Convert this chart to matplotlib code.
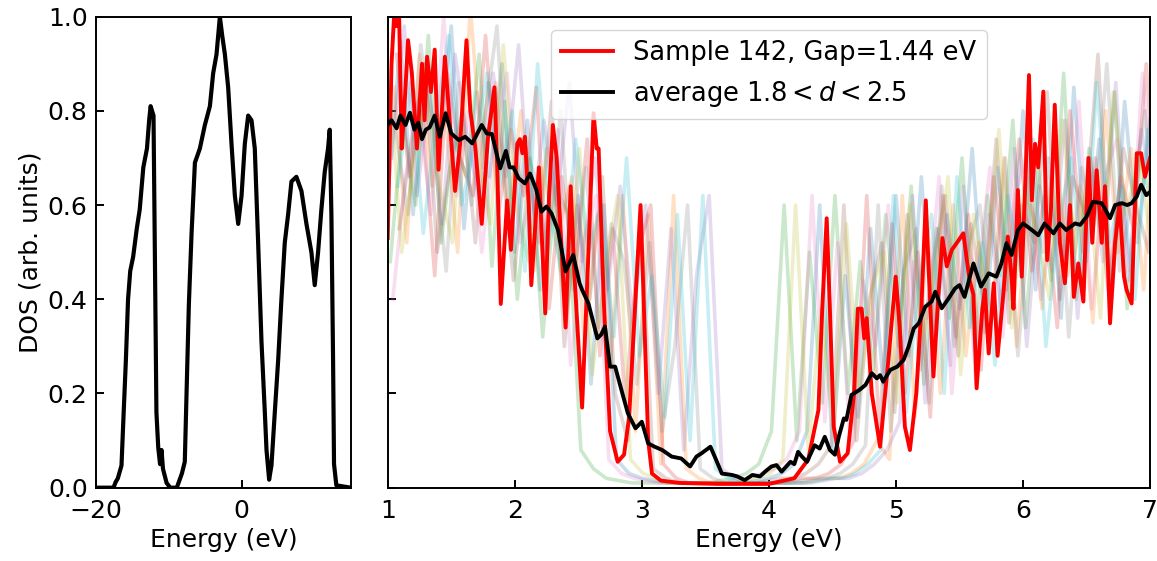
import numpy as np
import matplotlib.pyplot as plt

plt.rcParams['font.size'] = 18

# ----- full-range DOS (left panel) -----
full_energy = [-20, -17.6, -17.3, -17.0, -16.5, -16.2, -15.9, -15.6, -15.3, -14.9,
               -14.4, -14.0, -13.5, -13.0, -12.7, -12.5, -12.3, -12.1, -11.7, -11.45,
               -11.2, -11.0, -10.8, -10.3, -9.8, -8.9, -8.2, -7.8, -7.56, -7.24,
               -6.87, -6.41, -5.73, -5.04, -4.35, -3.9, -3.44, -2.98, -2.66, -2.29,
               -1.84, -1.38, -0.92, -0.46, 0.0, 0.45, 0.91, 1.37, 1.82, 2.28,
               2.74, 3.2, 3.43, 3.79, 4.11, 4.57, 5.03, 5.48, 5.94, 6.40,
               6.86, 7.54, 8.23, 8.92, 9.60, 10.06, 10.52, 10.97, 11.43, 11.89,
               12.12, 12.35, 12.58, 12.71, 13.03, 15.0]
full_dos = [0.0, 0.0, 0.012, 0.02, 0.047, 0.16, 0.27, 0.40, 0.46, 0.49,
            0.55, 0.59, 0.68, 0.72, 0.78, 0.81, 0.80, 0.79, 0.16, 0.085,
            0.05, 0.08, 0.04, 0.01, 0.0, 0.0, 0.03, 0.055, 0.20, 0.39,
            0.54, 0.69, 0.72, 0.77, 0.81, 0.88, 0.92, 1.0, 0.96, 0.92,
            0.85, 0.73, 0.62, 0.56, 0.62, 0.73, 0.79, 0.78, 0.72, 0.52,
            0.31, 0.16, 0.08, 0.017, 0.047, 0.16, 0.27, 0.40, 0.52, 0.58,
            0.65, 0.66, 0.63, 0.56, 0.50, 0.43, 0.50, 0.59, 0.67, 0.72,
            0.76, 0.58, 0.27, 0.05, 0.005, 0.0]

# ----- sample 142 (red) -----
sample_energy = [1.00, 1.03, 1.05, 1.07, 1.09, 1.11, 1.13, 1.16, 1.19, 1.23,
                 1.27, 1.29, 1.31, 1.34, 1.37, 1.40, 1.45, 1.49, 1.53, 1.57,
                 1.62, 1.65, 1.69, 1.74, 1.79, 1.84, 1.86, 1.89, 1.92, 1.94,
                 1.97, 2.02, 2.04, 2.06, 2.08, 2.11, 2.13, 2.16, 2.19, 2.21,
                 2.24, 2.27, 2.30, 2.33, 2.37, 2.40, 2.44, 2.47, 2.53, 2.58,
                 2.62, 2.645, 2.66, 2.70, 2.75, 2.81, 2.86, 2.90, 2.95, 2.99,
                 3.02, 3.05, 3.08, 3.15, 3.3, 3.6, 4.0, 4.2, 4.31, 4.39,
                 4.42, 4.455, 4.48, 4.51, 4.56, 4.62, 4.67, 4.70, 4.73, 4.75,
                 4.77, 4.81, 4.875, 4.94, 4.998, 5.03, 5.07, 5.11, 5.16, 5.20,
                 5.235, 5.26, 5.295, 5.335, 5.366, 5.40, 5.44, 5.48, 5.53, 5.58,
                 5.61, 5.635, 5.68, 5.70, 5.73, 5.77, 5.80, 5.845, 5.88, 5.91,
                 5.925, 5.96, 5.99, 6.02, 6.047, 6.07, 6.095, 6.12, 6.16, 6.19,
                 6.22, 6.25, 6.29, 6.33, 6.37, 6.40, 6.435, 6.475, 6.515, 6.545,
                 6.58, 6.62, 6.645, 6.685, 6.725, 6.76, 6.795, 6.815, 6.855, 6.895,
                 6.93, 6.96, 7.0]
sample_dos = [0.53, 0.90, 1.00, 0.98, 1.00, 0.72, 0.80, 0.95, 0.88, 0.72,
              0.90, 0.78, 0.915, 0.84, 0.93, 0.675, 0.915, 0.77, 0.63, 0.73,
              0.95, 0.80, 0.72, 0.56, 0.745, 0.85, 0.70, 0.39, 0.52, 0.61,
              0.505, 0.73, 0.74, 0.71, 0.745, 0.60, 0.43, 0.55, 0.68, 0.55,
              0.37, 0.62, 0.77, 0.70, 0.50, 0.34, 0.64, 0.45, 0.17, 0.50,
              0.795, 0.72, 0.72, 0.40, 0.12, 0.055, 0.07, 0.15, 0.40, 0.60,
              0.35, 0.10, 0.03, 0.015, 0.01, 0.008, 0.008, 0.02, 0.06, 0.165,
              0.38, 0.572, 0.38, 0.13, 0.055, 0.073, 0.20, 0.38, 0.38, 0.317,
              0.36, 0.20, 0.087, 0.27, 0.448, 0.34, 0.13, 0.08, 0.20, 0.38,
              0.61, 0.45, 0.236, 0.41, 0.53, 0.47, 0.505, 0.52, 0.54, 0.44,
              0.41, 0.211, 0.38, 0.42, 0.285, 0.434, 0.28, 0.41, 0.533, 0.448,
              0.38, 0.632, 0.448, 0.66, 0.876, 0.61, 0.73, 0.68, 0.841, 0.483,
              0.59, 0.813, 0.52, 0.434, 0.60, 0.405, 0.476, 0.395, 0.70, 0.52,
              0.674, 0.52, 0.64, 0.349, 0.52, 0.604, 0.448, 0.42, 0.391, 0.71,
              0.71, 0.66, 0.70]

# ----- average over 1.8 < d < 2.5 (black) -----
avg_energy = [1.00, 1.03, 1.07, 1.10, 1.14, 1.175, 1.21, 1.24, 1.27, 1.30,
              1.33, 1.37, 1.41, 1.456, 1.50, 1.56, 1.61, 1.665, 1.74, 1.78,
              1.82, 1.885, 1.93, 1.96, 1.99, 2.03, 2.08, 2.12, 2.17, 2.21,
              2.25, 2.29, 2.34, 2.40, 2.46, 2.51, 2.53, 2.58, 2.62, 2.65,
              2.68, 2.71, 2.75, 2.79, 2.84, 2.89, 2.95, 3.00, 3.05, 3.10,
              3.16, 3.235, 3.31, 3.38, 3.43, 3.47, 3.54, 3.58, 3.63, 3.71,
              3.75, 3.81, 3.87, 3.93, 3.97, 4.02, 4.06, 4.10, 4.17, 4.20,
              4.23, 4.26, 4.30, 4.36, 4.40, 4.44, 4.48, 4.52, 4.55, 4.59,
              4.61, 4.65, 4.71, 4.76, 4.81, 4.85, 4.875, 4.90, 4.955, 5.01,
              5.06, 5.10, 5.14, 5.18, 5.23, 5.28, 5.31, 5.36, 5.41, 5.465,
              5.50, 5.54, 5.61, 5.67, 5.73, 5.79, 5.83, 5.87, 5.91, 5.96,
              6.00, 6.07, 6.12, 6.17, 6.24, 6.29, 6.34, 6.41, 6.45, 6.50,
              6.55, 6.62, 6.685, 6.725, 6.78, 6.82, 6.855, 6.895, 6.93, 6.97,
              7.0]
avg_dos = [0.77, 0.78, 0.763, 0.79, 0.77, 0.796, 0.76, 0.775, 0.74, 0.76,
           0.765, 0.79, 0.745, 0.795, 0.752, 0.738, 0.745, 0.731, 0.77, 0.752,
           0.751, 0.678, 0.715, 0.68, 0.68, 0.657, 0.646, 0.667, 0.632, 0.586,
           0.597, 0.582, 0.547, 0.459, 0.494, 0.434, 0.42, 0.391, 0.349, 0.317,
           0.325, 0.342, 0.257, 0.257, 0.207, 0.158, 0.126, 0.14, 0.094, 0.087,
           0.08, 0.066, 0.062, 0.045, 0.066, 0.073, 0.087, 0.062, 0.03, 0.027,
           0.024, 0.016, 0.027, 0.024, 0.034, 0.045, 0.048, 0.034, 0.055, 0.05,
           0.076, 0.066, 0.055, 0.09, 0.083, 0.108, 0.08, 0.07, 0.108, 0.147,
           0.144, 0.197, 0.207, 0.218, 0.243, 0.232, 0.239, 0.225, 0.25, 0.257,
           0.271, 0.30, 0.338, 0.349, 0.384, 0.395, 0.416, 0.381, 0.40, 0.423,
           0.43, 0.405, 0.476, 0.427, 0.455, 0.448, 0.476, 0.519, 0.494, 0.547,
           0.561, 0.547, 0.536, 0.561, 0.54, 0.561, 0.547, 0.561, 0.558, 0.575,
           0.607, 0.604, 0.572, 0.60, 0.604, 0.60, 0.604, 0.618, 0.643, 0.621,
           0.628]

# ----- individual samples (faint background), 0.1 eV grid from 1 eV + shift -----
sample_shifts = [0.0, 0.05, 0.02, 0.07, 0.03, 0.09, 0.04, 0.06, 0.01, 0.08]
faint_dos = [
    [0.62, 0.95, 0.58, 0.88, 0.70, 0.98, 0.55, 0.84, 0.66, 0.90,
     0.50, 0.78, 0.42, 0.70, 0.35, 0.62, 0.22, 0.60, 0.06, 0.03,
     0.02, 0.015, 0.01, 0.01, 0.01, 0.01, 0.01, 0.01, 0.01, 0.015,
     0.02, 0.03, 0.05, 0.12, 0.60, 0.08, 0.45, 0.15, 0.55, 0.22,
     0.62, 0.28, 0.66, 0.30, 0.58, 0.38, 0.72, 0.33, 0.68, 0.40,
     0.80, 0.42, 0.70, 0.36, 0.85, 0.48, 0.74, 0.40, 0.82, 0.52, 0.78],
    [0.85, 0.52, 0.92, 0.64, 0.80, 0.50, 1.02, 0.68, 0.86, 0.58,
     0.80, 0.46, 0.72, 0.55, 0.66, 0.30, 0.58, 0.25, 0.62, 0.12,
     0.58, 0.05, 0.62, 0.04, 0.02, 0.01, 0.01, 0.01, 0.01, 0.01,
     0.01, 0.01, 0.01, 0.015, 0.02, 0.02, 0.03, 0.05, 0.10, 0.06,
     0.62, 0.15, 0.55, 0.20, 0.60, 0.28, 0.52, 0.35, 0.70, 0.30,
     0.66, 0.38, 0.76, 0.45, 0.64, 0.35, 0.80, 0.50, 0.72, 0.42, 0.86],
    [0.48, 0.78, 0.60, 0.96, 0.52, 0.74, 0.66, 0.92, 0.47, 0.82,
     0.40, 0.70, 0.32, 0.64, 0.58, 0.08, 0.04, 0.02, 0.015, 0.01,
     0.01, 0.01, 0.01, 0.01, 0.01, 0.01, 0.015, 0.02, 0.03, 0.05,
     0.12, 0.60, 0.10, 0.50, 0.18, 0.62, 0.20, 0.48, 0.25, 0.58,
     0.30, 0.64, 0.22, 0.55, 0.36, 0.70, 0.30, 0.62, 0.45, 0.78,
     0.34, 0.68, 0.44, 0.88, 0.40, 0.72, 0.52, 0.84, 0.38, 0.70, 0.60],
    [0.92, 0.66, 0.80, 0.45, 0.88, 0.70, 0.62, 0.96, 0.58, 0.76,
     0.62, 0.85, 0.38, 0.66, 0.45, 0.74, 0.28, 0.55, 0.18, 0.50,
     0.60, 0.05, 0.02, 0.01, 0.01, 0.01, 0.01, 0.01, 0.01, 0.01,
     0.01, 0.015, 0.02, 0.02, 0.03, 0.05, 0.10, 0.62, 0.12, 0.56,
     0.20, 0.50, 0.15, 0.62, 0.32, 0.58, 0.25, 0.66, 0.42, 0.74,
     0.46, 0.62, 0.34, 0.80, 0.50, 0.70, 0.42, 0.66, 0.55, 0.90, 0.48],
    [0.70, 0.98, 0.62, 0.84, 0.56, 0.92, 0.74, 0.60, 0.88, 0.66,
     0.94, 0.55, 0.78, 0.60, 0.86, 0.48, 0.70, 0.42, 0.64, 0.35,
     0.60, 0.20, 0.55, 0.08, 0.45, 0.62, 0.04, 0.02, 0.01, 0.01,
     0.01, 0.01, 0.01, 0.01, 0.015, 0.02, 0.02, 0.03, 0.05, 0.08,
     0.14, 0.62, 0.18, 0.55, 0.26, 0.64, 0.22, 0.58, 0.38, 0.72,
     0.30, 0.64, 0.46, 0.78, 0.36, 0.70, 0.48, 0.86, 0.44, 0.76, 0.62],
    [0.55, 0.74, 0.90, 0.50, 0.68, 0.80, 0.52, 0.86, 0.72, 0.44,
     0.70, 0.52, 0.82, 0.30, 0.60, 0.40, 0.66, 0.20, 0.10, 0.58,
     0.04, 0.02, 0.01, 0.01, 0.01, 0.01, 0.01, 0.01, 0.01, 0.015,
     0.02, 0.02, 0.03, 0.05, 0.09, 0.60, 0.10, 0.40, 0.52, 0.16,
     0.58, 0.25, 0.48, 0.62, 0.28, 0.56, 0.40, 0.74, 0.35, 0.60,
     0.52, 0.84, 0.40, 0.66, 0.58, 0.92, 0.44, 0.72, 0.60, 0.50, 0.80],
    [0.40, 0.66, 0.82, 0.58, 1.00, 0.62, 0.80, 0.50, 0.74, 0.88,
     0.52, 0.64, 0.46, 0.76, 0.26, 0.52, 0.62, 0.06, 0.03, 0.02,
     0.015, 0.01, 0.01, 0.01, 0.01, 0.01, 0.01, 0.015, 0.02, 0.03,
     0.04, 0.06, 0.12, 0.62, 0.14, 0.52, 0.10, 0.44, 0.30, 0.60,
     0.26, 0.48, 0.36, 0.66, 0.20, 0.54, 0.44, 0.68, 0.32, 0.62,
     0.72, 0.40, 0.58, 0.48, 0.82, 0.38, 0.66, 0.74, 0.46, 0.88, 0.56],
    [0.76, 0.58, 0.94, 0.72, 0.46, 0.86, 0.60, 0.78, 0.98, 0.54,
     0.74, 0.66, 0.50, 0.80, 0.42, 0.68, 0.34, 0.56, 0.48, 0.22,
     0.52, 0.12, 0.30, 0.60, 0.04, 0.02, 0.01, 0.01, 0.01, 0.01,
     0.01, 0.01, 0.015, 0.02, 0.02, 0.03, 0.05, 0.09, 0.60, 0.12,
     0.46, 0.55, 0.18, 0.64, 0.30, 0.50, 0.60, 0.36, 0.70, 0.28,
     0.60, 0.50, 0.76, 0.32, 0.68, 0.56, 0.90, 0.46, 0.62, 0.80, 0.40],
    [0.88, 0.50, 0.70, 0.84, 0.64, 0.52, 0.90, 0.70, 0.56, 0.94,
     0.60, 0.48, 0.68, 0.56, 0.36, 0.72, 0.24, 0.46, 0.62, 0.06,
     0.03, 0.02, 0.01, 0.01, 0.01, 0.01, 0.01, 0.01, 0.015, 0.02,
     0.03, 0.06, 0.60, 0.08, 0.38, 0.12, 0.56, 0.20, 0.42, 0.50,
     0.18, 0.60, 0.32, 0.46, 0.66, 0.24, 0.58, 0.42, 0.76, 0.34,
     0.64, 0.54, 0.40, 0.78, 0.50, 0.66, 0.36, 0.84, 0.58, 0.70, 0.52],
    [0.64, 0.86, 0.54, 0.78, 0.96, 0.60, 0.72, 0.88, 0.64, 0.80,
     0.46, 0.90, 0.58, 0.44, 0.74, 0.50, 0.60, 0.32, 0.70, 0.28,
     0.45, 0.15, 0.58, 0.10, 0.62, 0.04, 0.02, 0.01, 0.01, 0.01,
     0.01, 0.01, 0.01, 0.015, 0.02, 0.02, 0.03, 0.05, 0.08, 0.62,
     0.16, 0.44, 0.58, 0.20, 0.66, 0.34, 0.52, 0.26, 0.62, 0.46,
     0.74, 0.30, 0.56, 0.70, 0.42, 0.86, 0.52, 0.64, 0.40, 0.76, 0.66],
]

left_xticks = [-20, 0]
right_xticks = [1, 2, 3, 4, 5, 6, 7]
yticks = [0.0, 0.2, 0.4, 0.6, 0.8, 1.0]

fig = plt.figure(figsize=(11.57, 5.61), dpi=100)
ax1 = fig.add_axes([0.0830, 0.1307, 0.2201, 0.8396])
ax2 = fig.add_axes([0.3351, 0.1307, 0.6589, 0.8396])

ax1.plot(full_energy, full_dos, color='black', linewidth=3.0)
ax1.set_xlim(-20, 15)
ax1.set_ylim(0, 1)
ax1.set_xticks(left_xticks)
ax1.set_yticks(yticks)
ax1.set_xlabel('Energy (eV)')
ax1.set_ylabel('DOS (arb. units)')

grid = np.linspace(1.0, 7.0, 61)
for k, vals in enumerate(faint_dos):
    ax2.plot(grid + sample_shifts[k], vals, color='C%d' % (k % 10),
             alpha=0.24, linewidth=2.6)

ax2.plot(sample_energy, sample_dos, color='red', linewidth=2.8,
         label='Sample 142, Gap=1.44 eV')
ax2.plot(avg_energy, avg_dos, color='black', linewidth=2.8,
         label=r'average $1.8 < d < 2.5$')
ax2.set_xlim(1, 7)
ax2.set_ylim(0, 1)
ax2.set_xticks(right_xticks)
ax2.set_yticks(yticks)
ax2.set_yticklabels([])
ax2.set_xlabel('Energy (eV)')
ax2.legend(loc='upper center', fontsize=18.5)

for ax in (ax1, ax2):
    ax.tick_params(direction='in', length=6, width=1.4)
    ax.tick_params(axis='x', pad=8)
    ax.tick_params(axis='y', pad=6)
    for sp in ax.spines.values():
        sp.set_linewidth(1.4)

fig.savefig('out.png', dpi=100)
